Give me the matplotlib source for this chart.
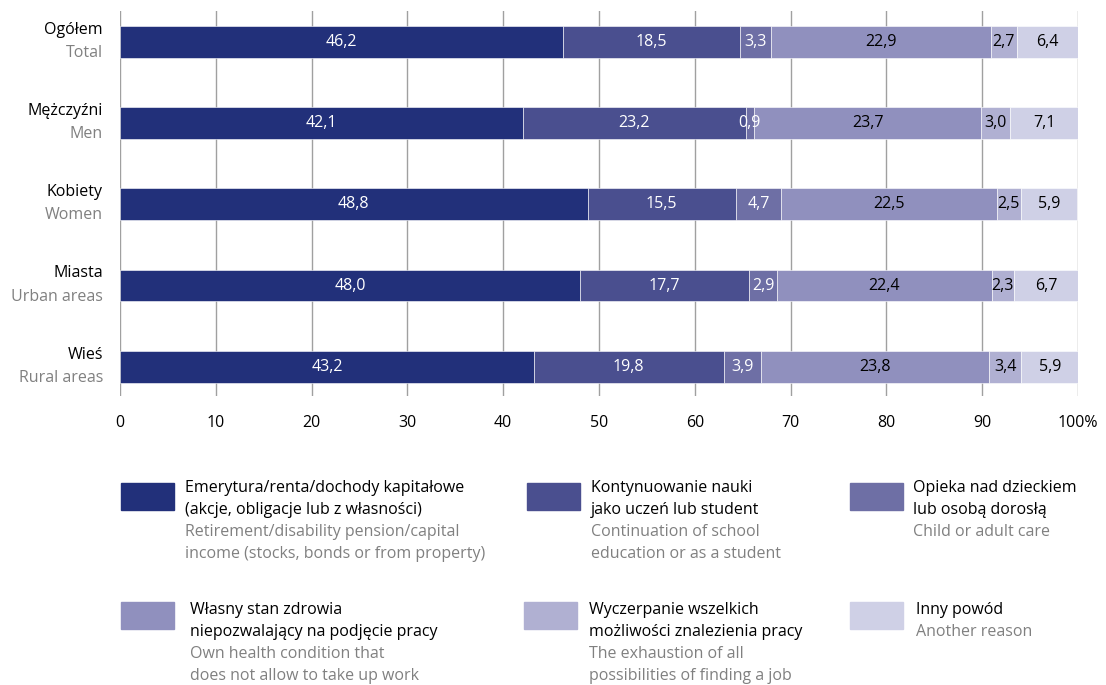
import numpy as np
import matplotlib.pyplot as plt
from matplotlib.patches import Rectangle

plt.rcParams['font.family'] = ['Open Sans', 'DejaVu Sans']

groups_pl = ['Ogółem', 'Mężczyźni', 'Kobiety', 'Miasta', 'Wieś']
groups_en = ['Total', 'Men', 'Women', 'Urban areas', 'Rural areas']

retirement = [46.2, 42.1, 48.8, 48.0, 43.2]
education = [18.5, 23.2, 15.5, 17.7, 19.8]
care = [3.3, 0.9, 4.7, 2.9, 3.9]
health = [22.9, 23.7, 22.5, 22.4, 23.8]
exhaustion = [2.7, 3.0, 2.5, 2.3, 3.4]
other = [6.4, 7.1, 5.9, 6.7, 5.9]

series = [retirement, education, care, health, exhaustion, other]
colors = ['#22307a', '#4a4f8f', '#6e6fa5', '#9090be', '#b0b0d2', '#cfd0e6']
text_colors = ['white', 'white', 'white', 'black', 'black', 'black']

legend_pl = [['Emerytura/renta/dochody kapitałowe', '(akcje, obligacje lub z własności)'],
             ['Kontynuowanie nauki', 'jako uczeń lub student'],
             ['Opieka nad dzieckiem', 'lub osobą dorosłą'],
             ['Własny stan zdrowia', 'niepozwalający na podjęcie pracy'],
             ['Wyczerpanie wszelkich', 'możliwości znalezienia pracy'],
             ['Inny powód']]
legend_en = [['Retirement/disability pension/capital', 'income (stocks, bonds or from property)'],
             ['Continuation of school', 'education or as a student'],
             ['Child or adult care'],
             ['Own health condition that', 'does not allow to take up work'],
             ['The exhaustion of all', 'possibilities of finding a job'],
             ['Another reason']]

W, H = 1106, 685
fig = plt.figure(figsize=(W / 100, H / 100), dpi=100)
ax = fig.add_axes([120 / W, 1 - 396 / H, (1078 - 120) / W, (396 - 11) / H])

ypos = np.arange(len(groups_pl))[::-1]
left = np.zeros(len(groups_pl))
for vals, c, tc in zip(series, colors, text_colors):
    vals = np.array(vals)
    ax.barh(ypos, vals, left=left, height=0.39, color=c, edgecolor='white', linewidth=0.4, zorder=3)
    for y, l, v in zip(ypos, left, vals):
        ax.text(l + v / 2, y, ('%.1f' % v).replace('.', ','), ha='center', va='center',
                color=tc, fontsize=11.5, zorder=4)
    left += vals

ax.set_xlim(0, 100)
ax.set_ylim(-0.36, 4.38)
ax.set_xticks(np.arange(0, 101, 10))
ax.set_xticklabels([str(t) for t in range(0, 100, 10)] + ['100%'], fontsize=11.5)
ax.tick_params(axis='x', length=0, pad=14)
ax.set_yticks([])
for s in ax.spines.values():
    s.set_visible(False)
ax.grid(axis='x', color='#a0a0a0', linewidth=1, zorder=0)

xl = -17 / 9.58
for y, pl, en in zip(ypos, groups_pl, groups_en):
    ax.text(xl, y + 0.1, pl, ha='right', va='baseline', fontsize=11.5, color='black')
    ax.text(xl, y - 0.185, en, ha='right', va='baseline', fontsize=11.5, color='#808080')

# legend layout (pixels)
patch_x = [121, 527, 850, 121, 524, 850]
patch_y = [483, 483, 483, 602, 602, 602]
text_x = [185, 591, 913, 190, 589, 916]
base_y = [491.5, 491.5, 491.5, 614, 614, 614]
lh = 22
for i in range(6):
    fig.patches.append(Rectangle((patch_x[i] / W, 1 - (patch_y[i] + 27) / H), 53 / W, 27 / H,
                                 transform=fig.transFigure, color=colors[i]))
    lines = [(t, 'black') for t in legend_pl[i]] + [(t, '#808080') for t in legend_en[i]]
    for k, (t, col) in enumerate(lines):
        fig.text(text_x[i] / W, 1 - (base_y[i] + k * lh) / H, t, ha='left', va='baseline',
                 fontsize=11.5, color=col)

fig.savefig('out.png', dpi=100)
